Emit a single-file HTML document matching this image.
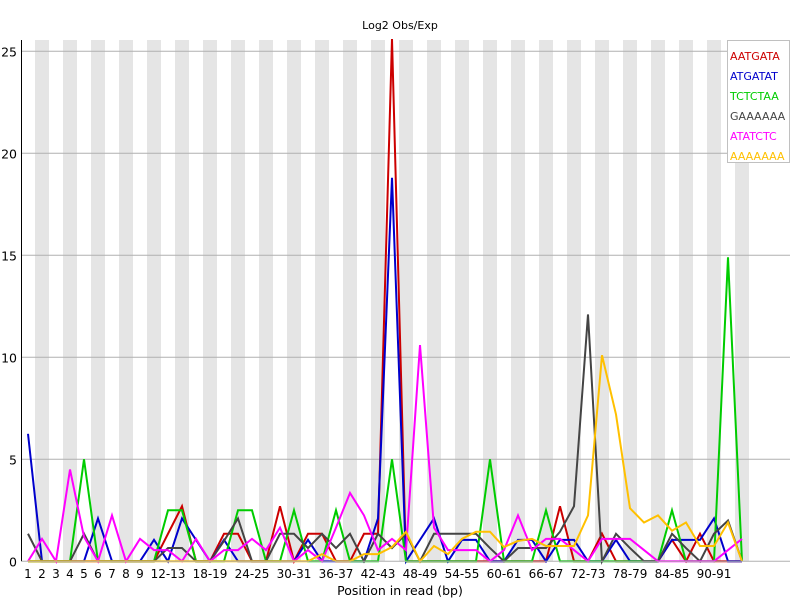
<!DOCTYPE html>
<html><head><meta charset="utf-8"><style>
body{margin:0;background:#fff}
svg text{font-family:"DejaVu Sans","Liberation Sans",sans-serif}
</style></head><body>
<svg id="chart" width="800" height="600" xmlns="http://www.w3.org/2000/svg">
<rect width="800" height="600" fill="#fff"/>
<g id="stripes"></g><g id="grid"></g><g id="lines"></g><g id="axes"></g>
<text x="400" y="29" text-anchor="middle" font-size="11">Log2 Obs/Exp</text>
<text x="400" y="595" text-anchor="middle" font-size="12.5">Position in read (bp)</text>
<g id="legend"></g>
</svg>
<script>
const categories=["1","2","3","4","5","6","7","8","9"];
for(let k=9;k<=51;k++)categories.push((2*k-8)+"-"+(2*k-7));
const shownLabels=["1","2","3","4","5","6","7","8","9","12-13","18-19","24-25","30-31","36-37","42-43","48-49","54-55","60-61","66-67","72-73","78-79","84-85","90-91"];
const yTicks=[0,5,10,15,20,25];
const seriesNames=["AATGATA","ATGATAT","TCTCTAA","GAAAAAA","ATATCTC","AAAAAAA"];
const seriesColors=["#cc0000","#0000cc","#00cc00","#444444","#ff00ff","#ffc000"];
const AATGATA=[0,0,0,0,0,0,0,0,0,0,1.35,2.7,0,0,1.35,1.35,0,0,2.7,0,1.35,1.35,0,0,1.35,1.35,25.6,0,0,0,0,0,0,0,0,0,0,0,2.7,0,0,1.35,0,0,0,0,1.05,0,1.35,0,0,0];
const ATGATAT=[6.25,0,0,0,0,2.1,0,0,0,1.05,0,2.1,1.05,0,1.05,0,0,0,0,0,1.05,0,0,0,0,2.1,18.8,0,1.05,2.1,0,1.05,1.05,0,0,1.05,1.05,0,1.05,1.05,0,0,1.05,0,0,0,1.05,1.05,1.05,2.1,0,0];
const TCTCTAA=[0,0,0,0,5,0,0,0,0,0,2.5,2.5,0,0,0,2.5,2.5,0,0,2.5,0,0,2.5,0,0,0,5,0,0,0,0,0,0,5,0,0,0,2.5,0,0,0,0,0,0,0,0,2.5,0,0,0,14.9,0];
const GAAAAAA=[1.35,0,0,0,1.35,0,0,0,0,0,0.65,0.65,0,0,1.0,2.1,0,0,1.35,1.35,0.65,1.35,0.65,1.35,0,1.35,0.65,1.35,0,1.35,1.35,1.35,1.35,0.65,0,0.65,0.65,0.65,1.45,2.7,12.1,0,1.35,0.65,0,0,1.35,0.65,0,1.35,2.0,0];
const ATATCTC=[0,1.1,0,4.5,1.2,0,2.25,0,1.1,0.55,0.55,0,1.1,0,0.55,0.55,1.1,0.55,1.65,0,0.55,0,1.65,3.35,2.25,0.55,1.1,0.55,10.6,1.65,0.55,0.55,0.55,0,0.55,2.25,0.55,1.1,1.1,0.55,0,1.1,1.1,1.1,0.55,0,0,0,0,0,0.55,1.1];
const AAAAAAA=[0,0,0,0,0,0,0,0,0,0,0,0,0,0,0,0,0,0,0,0,0,0.35,0,0,0.35,0.35,0.7,1.45,0,0.75,0.35,1.1,1.45,1.45,0.7,1.0,1.1,0.75,0.75,0.75,2.25,10.1,7.2,2.6,1.9,2.25,1.5,1.9,0.75,0.75,1.9,0];
const seriesData=[AATGATA,ATGATAT,TCTCTAA,GAAAAAA,ATATCTC,AAAAAAA];
const NS="http://www.w3.org/2000/svg";
const L=21.5,R=790,T=40,B=561.3;
const xPos=i=>28+14*i;
const yPos=v=>B-v*20.4;
function mk(t,a,p){const e=document.createElementNS(NS,t);for(const k in a)e.setAttribute(k,a[k]);p.appendChild(e);return e;}
const st=document.getElementById('stripes');
categories.forEach((c,i)=>{if(i%2==1){const r=mk('rect',{x:xPos(i)-7,y:T,width:14,height:B-T,fill:'#e5e5e5'},st);

}});
const gr=document.getElementById('grid');
const ax=document.getElementById('axes');
yTicks.forEach(v=>{if(v>0){const g=mk('line',{x1:L,x2:R,y1:yPos(v),y2:yPos(v),stroke:'#b0b0b0','stroke-width':1},gr);

}
const t=mk('text',{x:17,y:yPos(v)+5,'text-anchor':'end','font-size':12.5},ax);t.textContent=v;

});
categories.forEach((c,i)=>{if(shownLabels.includes(c)){const t=mk('text',{x:xPos(i),y:578,'text-anchor':'middle','font-size':12},ax);t.textContent=c;

}});
const ya=mk('line',{x1:L,x2:L,y1:T,y2:B,stroke:'#000','stroke-width':1},ax);


const xa=mk('line',{x1:L,x2:R,y1:B,y2:B,stroke:'#b0b0b0','stroke-width':1},ax);


const ln=document.getElementById('lines');
seriesData.forEach((d,s)=>{const pts=d.map((v,i)=>xPos(i)+','+yPos(v)).join(' ');
const p=mk('polyline',{points:pts,fill:'none',stroke:seriesColors[s],'stroke-width':2,'stroke-linejoin':'miter'},ln);

});
const lg=document.getElementById('legend');
mk('rect',{x:727.5,y:40.5,width:62,height:122,fill:'#fff',stroke:'#c0c0c0','stroke-width':1},lg);
seriesNames.forEach((n,s)=>{const t=mk('text',{x:730,y:60+20*s,'font-size':11,fill:seriesColors[s]},lg);t.textContent=n;

});
</script>
</body></html>
